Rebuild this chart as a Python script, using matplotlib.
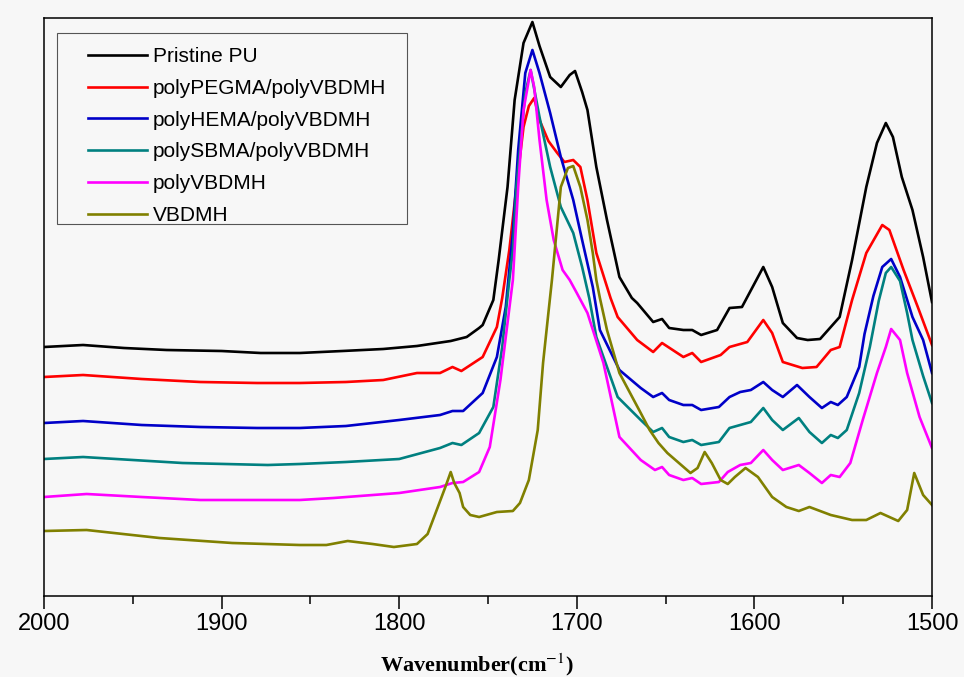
import matplotlib
matplotlib.use('Agg')
import matplotlib.pyplot as plt
from matplotlib.lines import Line2D
from matplotlib.legend_handler import HandlerLine2D
from matplotlib.patches import Rectangle
from matplotlib.ticker import MultipleLocator

# FTIR spectra, offset intensity (a.u.)
pu_wn = [2000, 1978, 1955, 1931, 1900, 1878, 1856, 1832, 1809, 1790, 1771, 1762, 1755, 1753, 1747,
         1744, 1739, 1735, 1730, 1725, 1721, 1715, 1709, 1704, 1701, 1697, 1694, 1689, 1683, 1676,
         1669, 1666, 1657, 1652, 1648, 1640, 1635, 1630, 1621, 1614, 1607, 1601, 1595, 1590, 1584,
         1576, 1570, 1563, 1557, 1552, 1545, 1537, 1531, 1526, 1522, 1517, 1511, 1505, 1500]
pu_ab = [249, 251, 248, 246, 245, 243, 243, 245, 247, 250, 255, 259, 268, 271, 296,
         336, 409, 496, 553, 574, 550, 519, 509, 521, 525, 504, 486, 429, 376, 319,
         298, 293, 274, 277, 268, 266, 266, 261, 266, 288, 289, 309, 329, 309, 273,
         258, 256, 257, 269, 279, 336, 409, 453, 473, 459, 419, 386, 339, 294]

pegma_wn = [2000, 1978, 1945, 1912, 1880, 1856, 1830, 1809, 1790, 1777, 1770, 1765, 1753, 1745,
            1742, 1738, 1734, 1730, 1727, 1724, 1721, 1716, 1711, 1707, 1702, 1698, 1694, 1689,
            1681, 1677, 1666, 1657, 1652, 1646, 1640, 1635, 1630, 1619, 1614, 1604, 1595, 1590,
            1584, 1573, 1565, 1557, 1552, 1545, 1537, 1528, 1524, 1516, 1508, 1500]
pegma_ab = [219, 221, 217, 214, 213, 213, 214, 216, 223, 223, 229, 225, 239, 269,
            298, 346, 409, 469, 490, 498, 476, 455, 443, 434, 436, 429, 396, 343,
            298, 279, 256, 244, 253, 246, 239, 243, 234, 241, 249, 254, 276, 263,
            234, 228, 229, 246, 249, 296, 343, 371, 366, 326, 289, 251]

hema_wn = [2000, 1978, 1945, 1912, 1880, 1856, 1830, 1800, 1777, 1770, 1764, 1753, 1745, 1740,
           1736, 1733, 1729, 1725, 1721, 1715, 1709, 1702, 1697, 1691, 1687, 1676, 1664, 1657,
           1652, 1648, 1640, 1635, 1630, 1620, 1614, 1608, 1602, 1595, 1590, 1584, 1576, 1569,
           1562, 1557, 1553, 1548, 1541, 1538, 1533, 1528, 1523, 1518, 1511, 1505, 1500]
hema_ab = [173, 175, 171, 169, 168, 168, 170, 176, 181, 185, 185, 203, 239, 289,
           363, 446, 523, 546, 523, 483, 439, 396, 356, 309, 266, 226, 208, 199,
           203, 196, 191, 191, 186, 189, 199, 204, 206, 214, 206, 199, 211, 199,
           188, 194, 191, 199, 229, 262, 300, 329, 337, 319, 279, 256, 223]

sbma_wn = [2000, 1978, 1950, 1922, 1874, 1856, 1830, 1800, 1777, 1770, 1765, 1755, 1747, 1742,
           1738, 1736, 1734, 1729, 1726, 1721, 1715, 1709, 1702, 1697, 1693, 1689, 1677, 1664,
           1657, 1652, 1648, 1640, 1635, 1630, 1620, 1614, 1602, 1595, 1590, 1584, 1575, 1569,
           1562, 1557, 1553, 1548, 1541, 1535, 1530, 1526, 1523, 1518, 1514, 1511, 1505, 1500]
sbma_ab = [137, 139, 136, 133, 131, 132, 134, 137, 148, 153, 151, 163, 189, 249,
           316, 346, 409, 503, 526, 479, 429, 389, 363, 329, 298, 259, 199, 176,
           164, 168, 159, 154, 156, 151, 154, 168, 174, 188, 176, 166, 178, 164,
           153, 161, 158, 166, 203, 249, 295, 323, 329, 315, 283, 256, 220, 193]

pvbdmh_wn = [2000, 1976, 1945, 1912, 1856, 1837, 1800, 1777, 1770, 1764, 1755, 1749, 1743, 1736,
             1733, 1730, 1726, 1724, 1721, 1717, 1713, 1708, 1704, 1700, 1694, 1685, 1676, 1664,
             1656, 1652, 1648, 1640, 1635, 1630, 1620, 1615, 1608, 1602, 1595, 1590, 1584, 1575,
             1569, 1562, 1557, 1552, 1546, 1539, 1531, 1526, 1523, 1518, 1514, 1507, 1500]
pvbdmh_ab = [99, 102, 99, 96, 96, 98, 103, 109, 113, 114, 124, 149, 216, 316,
             409, 486, 526, 509, 456, 396, 356, 326, 316, 303, 283, 233, 159, 136,
             126, 129, 121, 116, 118, 112, 114, 124, 131, 133, 146, 136, 126, 131,
             123, 113, 121, 119, 133, 176, 223, 249, 267, 256, 223, 179, 148]

vbdmh_wn = [2000, 1976, 1935, 1894, 1856, 1841, 1829, 1815, 1803, 1790, 1784, 1781, 1774, 1771,
            1769, 1766, 1764, 1760, 1755, 1745, 1736, 1732, 1727, 1722, 1719, 1716, 1714, 1709,
            1705, 1702, 1698, 1694, 1691, 1689, 1687, 1683, 1676, 1664, 1659, 1654, 1649, 1636,
            1632, 1628, 1624, 1619, 1615, 1611, 1605, 1598, 1590, 1582, 1575, 1569, 1557, 1545,
            1537, 1529, 1519, 1514, 1510, 1505, 1500]
vbdmh_ab = [65, 66, 58, 53, 51, 51, 55, 52, 49, 52, 62, 76, 109, 124,
            113, 103, 89, 81, 79, 84, 85, 93, 116, 166, 233, 283, 316, 409,
            428, 430, 409, 376, 343, 316, 298, 266, 223, 183, 166, 153, 143, 123,
            128, 144, 133, 116, 112, 119, 128, 119, 99, 89, 85, 89, 81, 76,
            76, 83, 75, 86, 123, 101, 91]

series = [
    ('Pristine PU', pu_wn, pu_ab, '#000000'),
    ('polyPEGMA/polyVBDMH', pegma_wn, pegma_ab, '#ff0000'),
    ('polyHEMA/polyVBDMH', hema_wn, hema_ab, '#0000c8'),
    ('polySBMA/polyVBDMH', sbma_wn, sbma_ab, '#008080'),
    ('polyVBDMH', pvbdmh_wn, pvbdmh_ab, '#ff00ff'),
    ('VBDMH', vbdmh_wn, vbdmh_ab, '#808000'),
]

bg = '#f7f7f7'
plt.rcParams['font.family'] = ['Liberation Sans', 'DejaVu Sans']
plt.rcParams['mathtext.fontset'] = 'stix'

fig = plt.figure(figsize=(9.64, 6.77), dpi=100, facecolor=bg)
ax = fig.add_axes([44 / 964, 81 / 677, 888 / 964, 578 / 677], facecolor=bg)

for name, wn, ab, col in series:
    ax.plot(wn, ab, color=col, lw=1.9, label=name, solid_joinstyle='round')

ax.set_xlim(2000, 1500)
ax.set_ylim(0, 578)
ax.xaxis.set_major_locator(MultipleLocator(100))
ax.xaxis.set_minor_locator(MultipleLocator(50))
ax.tick_params(axis='x', which='major', direction='out', length=9.5, width=1.1,
               labelsize=17, pad=3)
ax.tick_params(axis='x', which='minor', direction='out', length=6, width=1.1)
ax.set_yticks([])
for s in ax.spines.values():
    s.set_linewidth(1.1)

ax.set_xlabel('Wavenumber(cm$^{-1}$)', family='Liberation Serif', fontweight='bold',
              fontsize=16)
ax.xaxis.label.set_va('center')
ax.xaxis.set_label_coords(0.488, -0.119)

# legend entries without frame; the box is drawn separately (Origin-style padding)
leg = ax.legend(loc='upper left', bbox_to_anchor=(13 / 888, 555 / 578), borderaxespad=0,
                fontsize=15, handlelength=4.0, handletextpad=0.3, labelspacing=0.61,
                borderpad=0.3, frameon=False,
                handler_map={Line2D: HandlerLine2D(xpad=1.17)})
ax.add_patch(Rectangle((13 / 888, 372 / 578), 350 / 888, 191 / 578, transform=ax.transAxes,
                       facecolor='none', edgecolor='#555555', lw=0.8, zorder=6))

fig.savefig('out.png', dpi=100, facecolor=bg)
